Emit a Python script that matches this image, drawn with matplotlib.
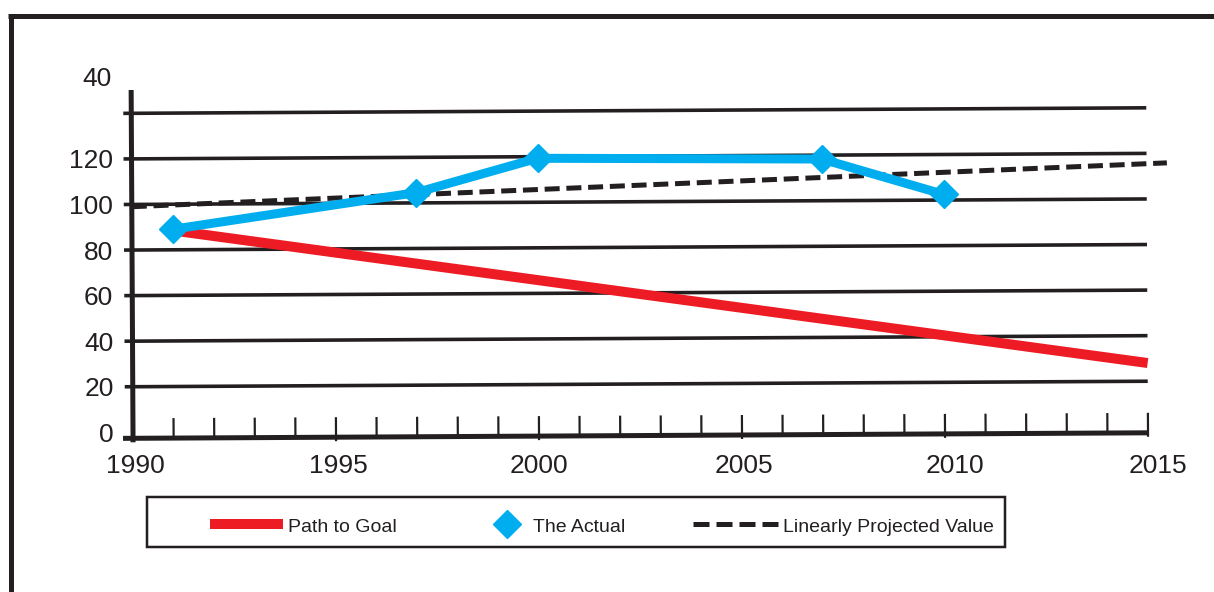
import matplotlib
matplotlib.use("Agg")
import matplotlib.pyplot as plt
from matplotlib.transforms import Affine2D
from matplotlib.lines import Line2D
from matplotlib.patches import Rectangle

plt.rcParams['font.family'] = ['Liberation Sans', 'DejaVu Sans']

# ---- data -------------------------------------------------------------
goal_years = [1991, 2015]
goal_values = [88.5, 28.0]

actual_years = [1991, 1997, 2000, 2007, 2010]
actual_values = [89.0, 104.5, 119.3, 118.3, 102.5]

proj_years = [1990, 2015.5]
proj_values = [99.0, 115.8]

grid_values = [20, 40, 60, 80, 100, 120, 140]
ytick_values = [0, 20, 40, 60, 80, 100, 120]
ytick_labels = ['0', '20', '40', '60', '80', '100', '120']
top_label = '40'
top_label_value = 156
xtick_years = [1990, 1995, 2000, 2005, 2010, 2015]
xtick_labels = ['1990', '1995', '2000', '2005', '2010', '2015']
legend_labels = ['Path to Goal', 'The Actual', 'Linearly Projected Value']

# ---- style ------------------------------------------------------------
K = '#231f20'
RED = '#ed1c24'
BLUE = '#00aeef'
PT = 0.72  # points per pixel at 100 dpi

W, H = 1214, 592
fig = plt.figure(figsize=(W / 100, H / 100), dpi=100)
ax = fig.add_axes([0, 0, 1, 1])
ax.axis('off')

# layout in pixels (y measured downward from the top of the image)
X_START = 133
X_END = 1148
Y_ZERO = 432.3
PX_PER_STEP = 45.57
ppy = (X_END - X_START) / (xtick_years[-1] - xtick_years[0])
ppv = PX_PER_STEP / 20

ax.set_xlim(1990 - X_START / ppy, 1990 + (W - X_START) / ppy)
ax.set_ylim((Y_ZERO - H) / ppv, Y_ZERO / ppv)


def dx(px):
    return px / ppy


def dy(px):
    return px / ppv


# whole plot is drawn with a slight counter-clockwise tilt
ox, oy = ax.transData.transform((1990, 0))
tr = ax.transData + Affine2D().rotate_deg_around(ox, oy, 0.31)

# grid lines (they poke out to the left of the y axis like ticks)
for v in grid_values:
    ax.plot([1990 - dx(8), 2015], [v, v], color=K, lw=3.6 * PT,
            solid_capstyle='butt', transform=tr, zorder=1)

# axes
axis_y = -dy(6)
ax.plot([1990, 1990], [axis_y - dy(4), dy(Y_ZERO - 90)], color=K,
        lw=5 * PT, solid_capstyle='butt', transform=tr, zorder=2)
ax.plot([1990 - dx(10), 2015], [axis_y, axis_y], color=K, lw=5 * PT,
        solid_capstyle='butt', transform=tr, zorder=2)

# year ticks
for yr in range(1991, 2016):
    major = yr % 5 == 0
    bottom = axis_y - dy(4) if major else axis_y
    ax.plot([yr, yr], [bottom, axis_y + dy(20)], color=K, lw=2.2 * PT,
            solid_capstyle='butt', transform=tr, zorder=2)

# tick labels
for v, lab in zip(ytick_values, ytick_labels):
    ax.text(1990 - dx(19), v, lab, ha='right', va='center_baseline',
            fontsize=19, color=K, transform=tr)
ax.text(1990 - dx(19), top_label_value, top_label, ha='right',
        va='center_baseline', fontsize=19, color=K, transform=tr)
x_label_nudge = [2, 2, 0, 2, 10, 10]
for yr, lab, nud in zip(xtick_years, xtick_labels, x_label_nudge):
    ax.text(yr + dx(nud), axis_y - dy(25), lab, ha='center',
            va='center_baseline', fontsize=19, color=K)

# series
ax.plot(goal_years, goal_values, color=RED, lw=10 * PT,
        solid_capstyle='butt', transform=tr, zorder=3)
ax.plot(proj_years, proj_values, color=K, lw=5 * PT, dashes=(3.0, 1.35),
        transform=tr, zorder=4)
ax.plot(actual_years, actual_values, color=BLUE, lw=9 * PT,
        marker='D', ms=14, mec=BLUE, mew=1, solid_joinstyle='miter',
        transform=tr, zorder=5)

# ---- outer frame and legend (pixel coordinates, y downward) -------------
pix = Affine2D().scale(1, -1).translate(0, H)

fig.add_artist(Line2D([8, W], [16, 16], color=K, lw=5 * PT,
                      solid_capstyle='butt', transform=pix))
fig.add_artist(Line2D([11, 11], [13.5, H], color=K, lw=5 * PT,
                      solid_capstyle='butt', transform=pix))

fig.add_artist(Rectangle((147, 497), 858, 50, fill=False, ec=K,
                         lw=2.5 * PT, transform=pix))
leg_y = 524
fig.add_artist(Line2D([210, 283], [leg_y, leg_y], color=RED, lw=10 * PT,
                      solid_capstyle='butt', transform=pix))
fig.add_artist(Line2D([507], [leg_y], color=BLUE, marker='D', ms=14,
                      mec=BLUE, mew=1, linestyle='none', transform=pix))
fig.add_artist(Line2D([693, 780], [leg_y, leg_y], color=K, lw=5 * PT,
                      dashes=(3.2, 1.4), transform=pix))
for x0, lab in zip([288, 533, 783], legend_labels):
    fig.text(x0, H - leg_y - 1, lab, ha='left', va='center_baseline',
             fontsize=14, color=K, transform=None)

fig.savefig('out.png', dpi=100)
